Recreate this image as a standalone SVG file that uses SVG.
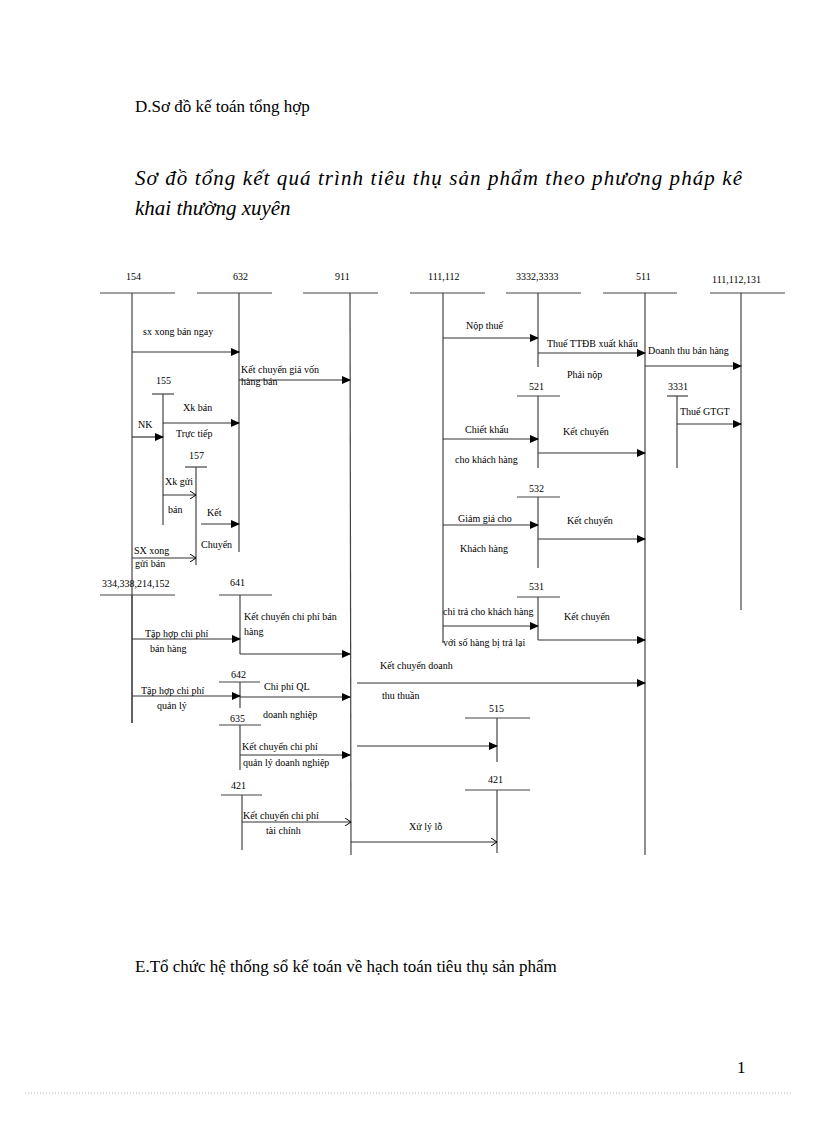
<svg xmlns="http://www.w3.org/2000/svg" width="816" height="1123" viewBox="0 0 816 1123" font-family="'Liberation Serif', 'Times New Roman', 'DejaVu Serif', serif">
<defs>
<marker id="a" markerWidth="9" markerHeight="8" refX="8" refY="4" orient="auto" markerUnits="userSpaceOnUse"><path d="M0,0 L9,4 L0,8 Z" fill="#000"/></marker>
<marker id="o" markerWidth="7" markerHeight="8" refX="6" refY="4" orient="auto" markerUnits="userSpaceOnUse"><path d="M0,0 L6,4 L0,8" fill="none" stroke="#000" stroke-width="1"/></marker>
<style>
.l{stroke:#444;stroke-width:1.2;fill:none}
.r{stroke:#333;stroke-width:1.2;fill:none;marker-end:url(#a)}
.ro{stroke:#333;stroke-width:1.2;fill:none;marker-end:url(#o)}
text{fill:#000}
.s{font-size:10px}
.h{font-size:17px}
.t{font-size:21px;font-style:italic}
</style>
</defs>
<rect width="816" height="1123" fill="#fff"/>
<text class="h" x="135" y="112">D.Sơ đồ kế toán tổng hợp</text>
<text class="t" x="135" y="185" textLength="607" lengthAdjust="spacing">Sơ đồ tổng kết quá trình tiêu thụ sản phẩm theo phương pháp kê</text>
<text class="t" x="135" y="215">khai thường xuyên</text>
<text class="h" x="135" y="972">E.Tổ chức hệ thống sổ kế toán về hạch toán tiêu thụ sản phẩm</text>
<text class="h" x="737" y="1073">1</text>
<line x1="25" y1="1093" x2="792" y2="1093" stroke="#bbb" stroke-dasharray="1,2"/>

<g id="n154"><text class="s" x="126" y="280">154</text><line class="l" x1="100" y1="293" x2="175" y2="293"/><line class="l" x1="132" y1="293" x2="132" y2="723"/></g>
<g id="n632"><text class="s" x="233" y="280">632</text><line class="l" x1="197" y1="293" x2="272" y2="293"/><line class="l" x1="239" y1="293" x2="239" y2="552"/></g>
<g id="n911"><text class="s" x="335" y="280">911</text><line class="l" x1="303" y1="293" x2="378" y2="293"/><line class="l" x1="350" y1="293" x2="351" y2="855"/></g>
<g id="n111"><text class="s" x="428" y="280">111,112</text><line class="l" x1="410" y1="293" x2="485" y2="293"/><line class="l" x1="443" y1="293" x2="443" y2="643"/></g>
<g id="n3332"><text class="s" x="516" y="280">3332,3333</text><line class="l" x1="506" y1="293" x2="581" y2="293"/><line class="l" x1="538" y1="293" x2="538" y2="367"/></g>
<g id="n511"><text class="s" x="636" y="280">511</text><line class="l" x1="603" y1="293" x2="677" y2="293"/><line class="l" x1="645" y1="293" x2="645" y2="855"/></g>
<g id="n111b"><text class="s" x="712" y="283">111,112,131</text><line class="l" x1="710" y1="293" x2="785" y2="293"/><line class="l" x1="741" y1="293" x2="741" y2="610"/></g>
<g id="n155"><text class="s" x="156" y="384">155</text><line class="l" x1="152" y1="394" x2="174" y2="394"/><line class="l" x1="163" y1="394" x2="163" y2="525"/></g>
<g id="n157"><text class="s" x="189" y="459">157</text><line class="l" x1="185" y1="467" x2="207" y2="467"/><line class="l" x1="196" y1="467" x2="196" y2="565"/></g>
<g id="n521"><text class="s" x="529" y="390">521</text><line class="l" x1="517" y1="396" x2="560" y2="396"/><line class="l" x1="538" y1="396" x2="538" y2="468"/></g>
<g id="n3331"><text class="s" x="668" y="390">3331</text><line class="l" x1="667" y1="396" x2="688" y2="396"/><line class="l" x1="677" y1="396" x2="677" y2="468"/></g>
<g id="n532"><text class="s" x="529" y="492">532</text><line class="l" x1="517" y1="497" x2="560" y2="497"/><line class="l" x1="538" y1="497" x2="538" y2="568"/></g>
<g id="n531"><text class="s" x="529" y="590">531</text><line class="l" x1="517" y1="597" x2="560" y2="597"/><line class="l" x1="538" y1="597" x2="538" y2="640"/></g>
<g id="n334"><text class="s" x="102" y="587">334,338,214,152</text><line class="l" x1="100" y1="595" x2="175" y2="595"/><line class="l" x1="132" y1="595" x2="132" y2="723"/></g>
<g id="n641"><text class="s" x="230" y="586">641</text><line class="l" x1="219" y1="595" x2="272" y2="595"/><line class="l" x1="240" y1="595" x2="240" y2="654"/></g>
<g id="n642"><text class="s" x="231" y="678">642</text><line class="l" x1="219" y1="682" x2="260" y2="682"/><line class="l" x1="240" y1="682" x2="240" y2="708"/></g>
<g id="n635"><text class="s" x="230" y="722">635</text><line class="l" x1="219" y1="725" x2="261" y2="725"/><line class="l" x1="240" y1="725" x2="240" y2="770"/></g>
<g id="n421a"><text class="s" x="231" y="789">421</text><line class="l" x1="221" y1="795" x2="262" y2="795"/><line class="l" x1="242" y1="795" x2="242" y2="850"/></g>
<g id="n515"><text class="s" x="489" y="712">515</text><line class="l" x1="465" y1="718" x2="530" y2="718"/><line class="l" x1="497" y1="718" x2="497" y2="762"/></g>
<g id="n421b"><text class="s" x="488" y="783">421</text><line class="l" x1="465" y1="790" x2="530" y2="790"/><line class="l" x1="497" y1="790" x2="497" y2="853"/></g>

<g id="connectors">
<line class="r" x1="132" y1="352" x2="239" y2="352"/>
<line class="r" x1="239" y1="380" x2="350" y2="380"/>
<line class="r" x1="163" y1="423" x2="239" y2="423"/>
<line class="r" x1="132" y1="437" x2="163" y2="437"/>
<line class="ro" x1="163" y1="495" x2="196" y2="495"/>
<line class="r" x1="201" y1="524" x2="239" y2="524"/>
<line class="ro" x1="132" y1="558" x2="196" y2="558"/>
<line class="r" x1="443" y1="338" x2="538" y2="338"/>
<line class="r" x1="538" y1="353" x2="645" y2="353"/>
<line class="r" x1="645" y1="366" x2="741" y2="366"/>
<line class="r" x1="677" y1="424" x2="741" y2="424"/>
<line class="r" x1="443" y1="439" x2="538" y2="439"/>
<line class="r" x1="538" y1="453" x2="645" y2="453"/>
<line class="r" x1="443" y1="525" x2="538" y2="525"/>
<line class="r" x1="538" y1="539" x2="645" y2="539"/>
<line class="r" x1="443" y1="626" x2="538" y2="626"/>
<line class="r" x1="538" y1="640" x2="645" y2="640"/>
<line class="r" x1="132" y1="639" x2="240" y2="639"/>
<line class="r" x1="240" y1="654" x2="350" y2="654"/>
<line class="r" x1="357" y1="683" x2="645" y2="683"/>
<line class="r" x1="132" y1="696" x2="240" y2="696"/>
<line class="r" x1="240" y1="697" x2="350" y2="697"/>
<line class="r" x1="240" y1="755" x2="350" y2="755"/>
<line class="r" x1="357" y1="746" x2="497" y2="746"/>
<line class="ro" x1="242" y1="822" x2="351" y2="822"/>
<line class="ro" x1="351" y1="842" x2="497" y2="842"/>
</g>

<g id="labels">
<text class="s" x="143" y="335">sx xong bán ngay</text>
<text class="s" x="241" y="373">Kết chuyển giá vốn</text>
<text class="s" x="241" y="385">hàng bán</text>
<text class="s" x="183" y="411">Xk bán</text>
<text class="s" x="176" y="437">Trực tiếp</text>
<text class="s" x="138" y="428">NK</text>
<text class="s" x="165" y="485">Xk gửi</text>
<text class="s" x="168" y="513">bán</text>
<text class="s" x="207" y="516">Kết</text>
<text class="s" x="201" y="548">Chuyển</text>
<text class="s" x="134" y="554">SX xong</text>
<text class="s" x="135" y="567">gửi bán</text>
<text class="s" x="466" y="329">Nộp thuế</text>
<text class="s" x="547" y="347">Thuế TTĐB xuất khẩu</text>
<text class="s" x="567" y="378">Phải nộp</text>
<text class="s" x="648" y="354">Doanh thu bán hàng</text>
<text class="s" x="680" y="415">Thuế GTGT</text>
<text class="s" x="465" y="433">Chiết khấu</text>
<text class="s" x="455" y="463">cho khách hàng</text>
<text class="s" x="563" y="435">Kết chuyển</text>
<text class="s" x="458" y="522">Giảm giá cho</text>
<text class="s" x="460" y="552">Khách hàng</text>
<text class="s" x="567" y="524">Kết chuyển</text>
<text class="s" x="443" y="615">chi trả cho khách hàng</text>
<text class="s" x="443" y="646">với số hàng bị trả lại</text>
<text class="s" x="564" y="620">Kết chuyển</text>
<text class="s" x="244" y="620">Kết chuyển chi phí bán</text>
<text class="s" x="244" y="635">hàng</text>
<text class="s" x="145" y="637">Tập hợp chi phí</text>
<text class="s" x="150" y="652">bán hàng</text>
<text class="s" x="380" y="669">Kết chuyển doanh</text>
<text class="s" x="382" y="699">thu thuần</text>
<text class="s" x="264" y="690">Chi phí QL</text>
<text class="s" x="141" y="694">Tập hợp chi phí</text>
<text class="s" x="157" y="709">quản lý</text>
<text class="s" x="263" y="718">doanh nghiệp</text>
<text class="s" x="242" y="750">Kết chuyển chi phí</text>
<text class="s" x="243" y="766">quản lý doanh nghiệp</text>
<text class="s" x="243" y="819">Kết chuyển chi phí</text>
<text class="s" x="266" y="834">tài chính</text>
<text class="s" x="409" y="830">Xử lý lỗ</text>
</g>
</svg>
